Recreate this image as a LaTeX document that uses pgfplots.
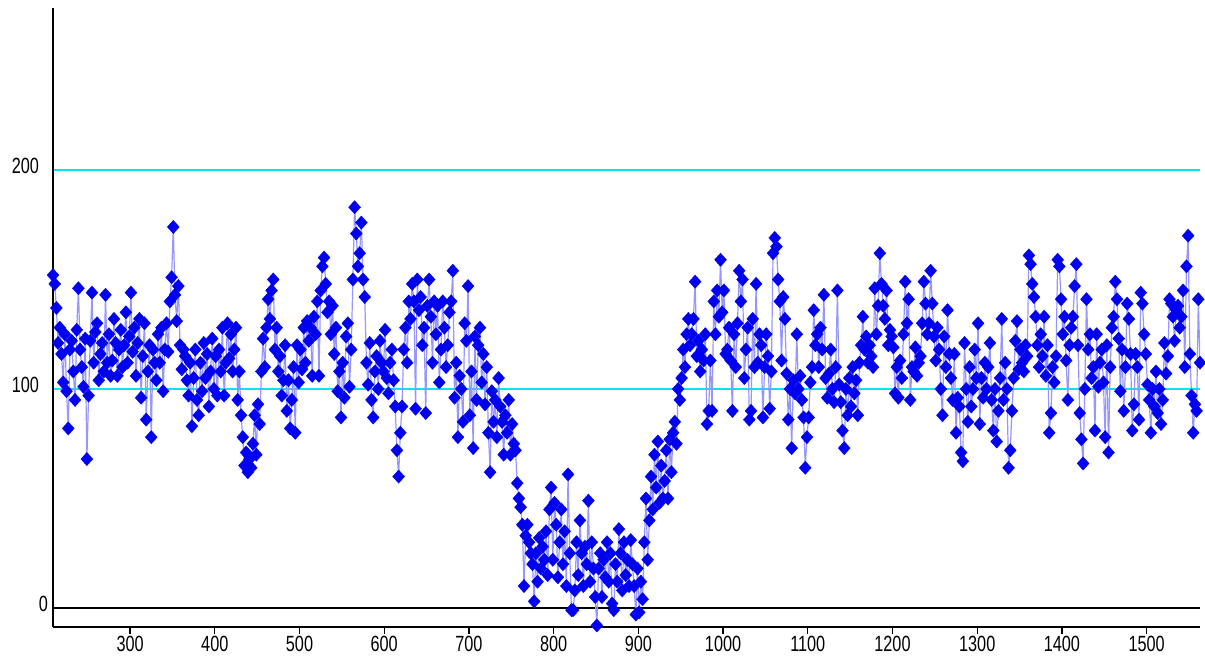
\documentclass[border=0pt]{standalone}
\usepackage{fontspec}
\setmainfont{Liberation Sans}
\newfontfamily\tickfont{Liberation Sans}[FakeStretch=0.74]
\usepackage{pgfplots}
\pgfplotsset{compat=1.18}
\definecolor{ln}{RGB}{150,150,255}
\definecolor{mk}{RGB}{0,0,240}
\definecolor{gcyan}{RGB}{0,230,240}
\begin{document}
\begin{tikzpicture}
\begin{axis}[name=ax,
  scale only axis, width=573.5pt, height=309.5pt,
  xmin=209, xmax=1563, ymin=-8.7, ymax=274,
  axis x line*=bottom, axis y line*=left,
  axis line style={black, line width=0.8pt},
  xtick={300,400,...,1500}, ytick={0,100,200},
  yticklabels={{0\kern-4.5pt},100,200},
  tick align=outside, major tick length=3.5pt,
  xtick style={black, line width=0.6pt},
  ytick style={draw=none},
  ymajorgrids, grid style={gcyan, line width=0.9pt},
  /pgf/number format/assume math mode=true,
  /pgf/number format/1000 sep={},
  ticklabel style={font=\tickfont\fontsize{11}{13}\selectfont},
  yticklabel style={anchor=east, xshift=0pt, yshift=2pt},
  xticklabel style={yshift=2.5pt},
  clip=true,
]
\draw[black, line width=0.8pt] (axis cs:209,0) -- (axis cs:1563,0);
\addplot[color=ln, line width=0.6pt, mark=diamond*, mark size=3.3pt,
  mark options={xscale=1.2, fill=mk, draw=mk, line width=0.2pt}] coordinates {
(209,152)(211,148)(213,137)(215,121)(217,128)(219,116)(221,103)(223,125)(225,99)(227,82)
(229,118)(231,122)(233,108)(235,95)(237,127)(239,146)(241,118)(243,110)(245,101)(247,123)
(249,68)(251,97)(253,122)(255,144)(257,112)(259,126)(261,130)(263,104)(265,116)(267,121)
(269,108)(271,143)(273,112)(275,125)(277,106)(279,113)(281,132)(283,121)(285,106)(287,118)
(289,127)(291,110)(293,120)(295,135)(297,112)(299,124)(301,144)(303,117)(305,128)(307,106)
(309,121)(311,132)(313,96)(315,115)(317,130)(319,86)(321,108)(323,120)(325,78)(327,118)
(329,112)(331,104)(333,125)(335,112)(337,128)(339,99)(341,118)(343,130)(345,117)(347,140)
(349,151)(351,174)(353,143)(355,131)(357,147)(359,120)(361,109)(363,118)(365,115)(367,104)
(369,97)(371,112)(373,83)(375,105)(377,118)(379,95)(381,88)(383,112)(385,99)(387,121)
(389,105)(391,116)(393,92)(395,108)(397,123)(399,100)(401,115)(403,97)(405,118)(407,108)
(409,128)(411,97)(413,112)(415,130)(417,114)(419,125)(421,108)(423,118)(425,128)(427,95)
(429,108)(431,88)(433,78)(435,65)(437,71)(439,62)(441,68)(443,64)(445,75)(447,88)
(449,70)(451,93)(453,84)(455,108)(457,123)(459,110)(461,128)(463,141)(465,132)(467,145)
(469,150)(471,118)(473,128)(475,108)(477,115)(479,97)(481,104)(483,120)(485,90)(487,104)
(489,82)(491,95)(493,110)(495,80)(497,120)(499,103)(501,118)(503,109)(505,128)(507,112)
(509,131)(511,122)(513,128)(515,106)(517,133)(519,125)(521,140)(523,106)(525,145)(527,156)
(529,160)(531,148)(533,135)(535,140)(537,125)(539,138)(541,116)(543,128)(545,99)(547,108)
(549,87)(551,112)(553,96)(555,124)(557,130)(559,101)(561,118)(563,150)(565,183)(567,171)
(569,156)(571,162)(573,176)(575,150)(577,142)(579,112)(581,102)(583,121)(585,95)(587,87)
(589,108)(591,115)(593,100)(595,122)(597,112)(599,108)(601,127)(603,105)(605,98)(607,112)
(609,118)(611,104)(613,92)(615,72)(617,60)(619,80)(621,92)(623,118)(625,128)(627,112)
(629,140)(631,132)(633,148)(635,140)(637,91)(639,150)(641,136)(643,142)(645,120)(647,128)
(649,89)(651,138)(653,150)(655,133)(657,112)(659,140)(661,125)(663,138)(665,103)(667,118)
(669,140)(671,128)(673,110)(675,120)(677,135)(679,140)(681,154)(683,96)(685,112)(687,78)
(689,106)(691,100)(693,85)(695,130)(697,122)(699,147)(701,88)(703,108)(705,73)(707,124)
(709,95)(711,120)(713,128)(715,103)(717,116)(719,93)(721,110)(723,80)(725,62)(727,99)
(729,85)(731,95)(733,78)(735,105)(737,92)(739,85)(741,70)(743,88)(745,80)(747,95)
(749,70)(751,84)(753,75)(755,72)(757,57)(759,50)(761,46)(763,38)(765,10)(767,33)
(769,38)(771,30)(773,25)(775,20)(777,3)(779,25)(781,12)(783,32)(785,18)(787,28)
(789,22)(791,35)(793,15)(795,45)
(797,55)(799,22)(801,48)(803,38)(805,14)(807,30)(809,45)(811,20)(813,35)(815,10)
(817,61)(819,25)(821,-1)(823,-1)(825,8)(827,30)(829,15)(831,40)(833,25)(835,10)
(837,28)(839,20)(841,49)(843,12)(845,30)(847,18)(849,5)(851,-8)(853,18)(855,25)
(857,5)(859,22)(861,14)(863,30)(865,12)(867,25)(869,2)(871,-1)(873,20)(875,12)
(877,36)(879,25)(881,8)(883,30)(885,15)(887,22)(889,10)(891,31)(893,20)(895,10)
(897,-3)(899,18)(901,-2)(903,12)(905,4)(907,30)(909,50)(911,22)(913,40)(915,60)
(917,45)(919,70)(921,55)(923,76)(925,48)(927,65)(929,50)(931,58)(933,72)(935,50)
(937,77)(939,62)(941,80)(943,85)(945,75)(947,100)(949,95)(951,105)(953,118)(955,110)
(957,125)(959,132)(961,120)(963,125)(965,132)(967,149)(969,115)(971,122)(973,108)(975,118)
(977,113)(979,125)(981,84)(983,90)(985,113)(987,90)(989,140)(991,125)(993,145)(995,133)
(997,159)(999,135)(1001,145)(1003,116)(1005,118)(1007,128)(1009,113)(1011,90)(1013,125)(1015,110)
(1017,130)(1019,154)(1021,140)(1023,150)(1025,105)(1027,118)(1029,128)(1031,86)(1033,90)(1035,132)
(1037,110)(1039,148)(1041,112)(1043,125)(1045,120)(1047,87)(1049,110)(1051,125)(1053,115)(1055,91)
(1057,108)(1059,162)(1061,169)(1063,165)(1065,150)(1067,140)(1069,113)(1071,142)(1073,132)(1075,107)
(1077,86)(1079,100)(1081,73)(1083,104)(1085,98)(1087,125)(1089,100)(1091,106)(1093,95)(1095,87)
(1097,64)(1099,78)(1101,87)(1103,103)(1105,110)(1107,136)(1109,120)(1111,125)(1113,110)(1115,128)
(1117,118)(1119,143)(1121,105)(1123,96)(1125,107)(1127,118)(1129,100)(1131,94)(1133,110)(1135,145)
(1137,102)(1139,94)(1141,81)(1143,73)(1145,100)(1147,88)(1149,105)(1151,92)(1153,110)(1155,98)
(1157,104)(1159,88)(1161,112)(1163,120)(1165,133)(1167,118)(1169,124)(1171,112)(1173,120)(1175,115)
(1177,110)(1179,146)(1181,125)(1183,138)(1185,162)(1187,148)(1189,138)(1191,132)(1193,145)(1195,120)
(1197,127)(1199,124)(1201,119)(1203,98)(1205,110)(1207,96)(1209,113)(1211,105)(1213,125)(1215,149)
(1217,130)(1219,141)(1221,95)(1223,110)(1225,108)(1227,119)(1229,106)(1231,112)(1233,115)(1235,130)
(1237,149)(1239,139)(1241,125)(1243,130)(1245,154)(1247,139)(1249,124)(1251,113)(1253,128)(1255,118)
(1257,100)(1259,88)(1261,124)(1263,110)(1265,136)(1267,116)(1269,105)(1271,95)(1273,116)(1275,80)
(1277,96)(1279,92)(1281,71)(1283,67)(1285,121)(1287,100)(1289,85)(1291,110)(1293,92)(1295,100)
(1297,118)(1299,105)(1301,130)(1303,84)(1305,105)(1307,96)(1309,112)(1311,100)(1313,110)(1315,121)
(1317,95)(1319,81)(1321,100)(1323,76)(1325,90)(1327,105)(1329,132)(1331,95)(1333,112)(1335,100)
(1337,64)(1339,72)(1341,90)(1343,105)(1345,122)(1347,131)(1349,109)(1351,118)(1353,112)(1355,108)
(1357,120)(1359,115)(1361,161)(1363,157)(1365,148)(1367,142)(1369,133)(1371,120)(1373,110)(1375,125)
(1377,115)(1379,133)(1381,106)(1383,120)(1385,80)(1387,89)(1389,110)(1391,103)(1393,115)(1395,159)
(1397,156)(1399,141)(1401,125)(1403,133)(1405,113)(1407,95)(1409,120)(1411,128)(1413,133)(1415,147)
(1417,157)(1419,120)(1421,89)(1423,77)(1425,66)(1427,100)(1429,141)(1431,118)(1433,125)(1435,105)
(1437,110)(1439,81)(1441,125)(1443,101)(1445,112)(1447,118)(1449,103)(1451,78)(1453,120)(1455,71)
(1457,110)(1459,128)(1461,133)(1463,149)(1465,141)(1467,123)(1469,99)(1471,118)(1473,90)(1475,110)
(1477,139)(1479,132)(1481,116)(1483,81)(1485,93)(1487,116)(1489,110)(1491,86)(1493,144)(1495,139)
(1497,125)(1499,116)(1501,102)(1503,95)(1505,80)(1507,100)(1509,92)(1511,108)(1513,89)(1515,100)
(1517,84)(1519,95)(1521,121)(1523,107)(1525,115)(1527,141)(1529,139)(1531,133)(1533,122)(1535,136)
(1537,138)(1539,128)(1541,133)(1543,145)(1545,110)(1547,156)(1549,170)(1551,116)(1553,97)(1555,80)
(1557,93)(1559,90)(1561,141)(1563,112)
};
\end{axis}
\pgfresetboundingbox
\path ([xshift=-26.5pt,yshift=-15pt]ax.south west) rectangle ([xshift=2.5pt,yshift=4pt]ax.north east);
\end{tikzpicture}
\end{document}
